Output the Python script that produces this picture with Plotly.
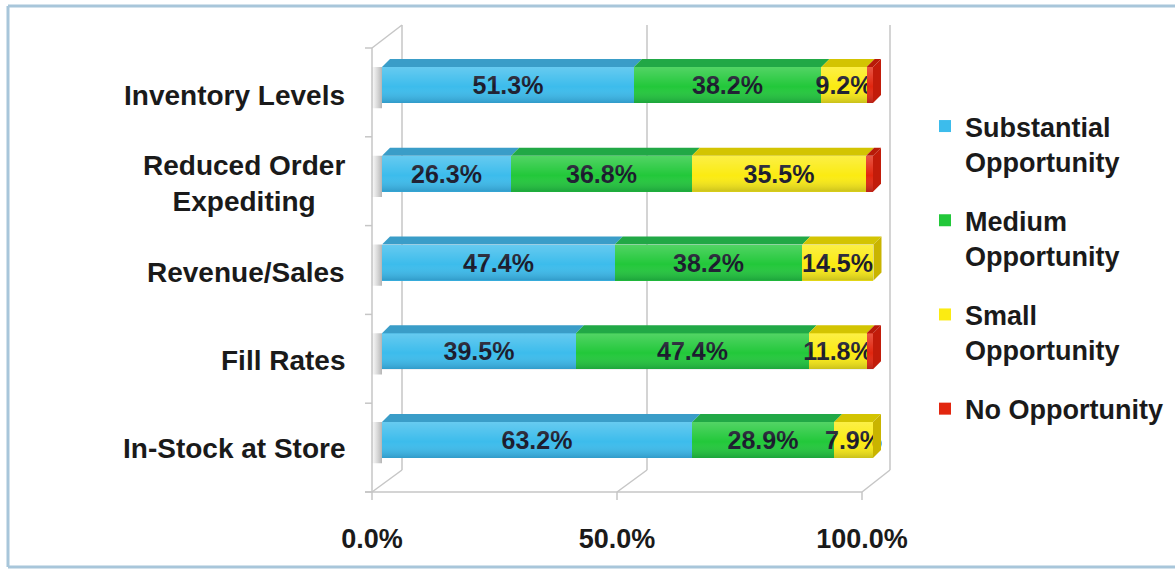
import plotly.graph_objects as go

# ---------------- data ----------------
categories = ["Inventory Levels", "Reduced Order<br>Expediting", "Revenue/Sales",
              "Fill Rates", "In-Stock at Store"]
series_names = ["Substantial<br>Opportunity", "Medium<br>Opportunity",
                "Small<br>Opportunity", "No Opportunity"]
substantial = [51.3, 26.3, 47.4, 39.5, 63.2]
medium = [38.2, 36.8, 38.2, 47.4, 28.9]
small = [9.2, 35.5, 14.5, 11.8, 7.9]
no_opp = [1.3, 1.4, 0.0, 1.3, 0.0]
x_tick_vals = [0, 50, 100]
x_tick_text = ["0.0%", "50.0%", "100.0%"]

# ---------------- styles ----------------
W, H = 1175, 569
FONT = "Liberation Sans, Arial, Helvetica, sans-serif"
front_cols = ["#3cbcec", "#22c83a", "#fbeb12", "#e2260f"]
top_cols = ["#3a9dc8", "#21a846", "#d3c402", "#b81a08"]
end_cols = ["#2f8fc0", "#1c9a3c", "#c9b400", "#c21c0a"]
text_col = "#18182a"
grid_col = "#c6c6c6"

# plot domain in pixels
X0, X1, Y0, Y1 = 355, 900, 20, 505
BAR0, BAR100 = 382, 873          # bar front-face 0% and 100%
TICK0, TICK100 = 372, 862        # front floor 0% and 100%
kx = (BAR100 - BAR0) / 100.0
kx2 = (TICK100 - TICK0) / 100.0
BAR_C0, KY = 440.0, 88.75        # bar centre of bottom row, row spacing
LAB_C0, KY2 = 448.0, 88.0        # label centre of bottom row, row spacing
bar_w = 36 / KY
ddx, ddy = 8 / kx, 8 / KY        # 3D depth of bars

n = len(categories)
ypos = [n - 1 - i for i in range(n)]
series = [substantial, medium, small, no_opp]

fig = go.Figure()

# soft shadow at the left end of each bar
sx, sy = [], []
for i in range(n):
    yt = ypos[i] + bar_w / 2
    yb = ypos[i] - bar_w / 2 - 0.06
    sx += [-2.2, 0, 0, -2.2, -2.2, None]
    sy += [yb, yb, yt, yt, yb, None]
fig.add_trace(go.Scatter(
    x=sx, y=sy, mode="lines", fill="toself", line=dict(width=0),
    fillgradient=dict(type="horizontal", start=-2.2, stop=0,
                      colorscale=[[0, "rgba(150,150,150,0)"],
                                  [1, "rgba(120,120,120,0.55)"]]),
    hoverinfo="skip", showlegend=False))

# front faces
for s, (name, vals) in enumerate(zip(series_names, series)):
    txt = [f"{v:.1f}%" if s < 3 else "" for v in vals]
    fig.add_trace(go.Bar(
        y=ypos, x=vals, orientation="h", name=name, width=bar_w,
        marker=dict(color=front_cols[s], line=dict(width=0)),
        text=txt, texttemplate="%{text}", textposition="inside",
        insidetextanchor="middle", textangle=0, constraintext="none",
        textfont=dict(family=FONT, size=25, color=text_col, weight="bold"),
        legendgroup=name, hoverinfo="x+name",
    ))

# shading over each bar front face (light top, darker bottom)
for i in range(n):
    total = sum(series[k][i] for k in range(4))
    yt = ypos[i] + bar_w / 2
    yb = ypos[i] - bar_w / 2
    fig.add_trace(go.Scatter(
        x=[0, total, total, 0, 0], y=[yb, yb, yt, yt, yb],
        mode="lines", fill="toself", line=dict(width=0),
        fillgradient=dict(type="vertical", start=yb, stop=yt,
                          colorscale=[[0, "rgba(0,20,60,0.20)"],
                                      [0.45, "rgba(255,255,255,0)"],
                                      [1, "rgba(255,255,255,0.22)"]]),
        hoverinfo="skip", showlegend=False))

# top faces and end faces (3D look), computed from the data
for s in range(4):
    xs, ys = [], []
    for i in range(n):
        start = sum(series[k][i] for k in range(s))
        end = start + series[s][i]
        if series[s][i] <= 0:
            continue
        yt = ypos[i] + bar_w / 2
        xs += [start, end, end + ddx, start + ddx, start, None]
        ys += [yt, yt, yt + ddy, yt + ddy, yt, None]
    fig.add_trace(go.Scatter(x=xs, y=ys, mode="lines", fill="toself",
                             fillcolor=top_cols[s], line=dict(width=0),
                             hoverinfo="skip", showlegend=False))

for s in range(4):
    xs, ys = [], []
    for i in range(n):
        last = max(k for k in range(4) if series[k][i] > 0)
        if last != s:
            continue
        end = sum(series[k][i] for k in range(4))
        yt = ypos[i] + bar_w / 2
        yb = ypos[i] - bar_w / 2
        xs += [end, end, end + ddx, end + ddx, end, None]
        ys += [yb, yt, yt + ddy, yb + ddy, yb, None]
    fig.add_trace(go.Scatter(x=xs, y=ys, mode="lines", fill="toself",
                             fillcolor=end_cols[s], line=dict(width=0),
                             hoverinfo="skip", showlegend=False))

# invisible trace on the label axes so they are drawn
fig.add_trace(go.Scatter(x=[None], y=[None], xaxis="x2", yaxis="y2",
                         showlegend=False, hoverinfo="skip"))


def fx(p):
    return p / W


def fy(p):
    return 1 - p / H


# 3D frame lines (pixel coordinates of the decoration)
frame = [
    (372, 48, 372, 500),                       # front-left edge
    (402, 25, 402, 470), (647, 25, 647, 470), (890, 25, 890, 470),  # back wall
    (372, 48, 402, 25),                        # top-left diagonal
    (365, 492, 862, 492),                      # front floor edge
    (372, 492, 402, 470), (617, 492, 647, 470), (862, 492, 890, 470),
    (617, 492, 617, 500), (862, 492, 862, 500),
]
for k in range(6):
    yy = 48 + k * 88.8
    frame.append((365, yy, 372, yy))
shapes = [dict(type="line", xref="paper", yref="paper",
               x0=fx(a), y0=fy(b), x1=fx(c), y1=fy(d),
               line=dict(color=grid_col, width=1.5), layer="below")
          for a, b, c, d in frame]
# outer frame (top, left, bottom) kept inside the page
for a, b, c, d in [(8, 6, 1175, 6), (8, 6, 8, 567), (8, 567, 1175, 567)]:
    shapes.append(dict(type="line", xref="paper", yref="paper",
                       x0=fx(a), y0=fy(b), x1=fx(c), y1=fy(d),
                       line=dict(color="#a8c6da", width=3), layer="below"))

# category labels
annotations = [dict(text=f"<b>{c}</b>", x=fx(347), xref="paper", xanchor="right",
                    y=ypos[i], yref="y2", yanchor="middle", showarrow=False,
                    align="center", font=dict(family=FONT, size=28, color="#1a1a1a"))
               for i, c in enumerate(categories)]

dom_x = [fx(X0), fx(X1)]
dom_y = [fy(Y1), fy(Y0)]

fig.update_layout(
    width=W, height=H, autosize=False,
    margin=dict(l=0, r=0, t=0, b=0, pad=0, autoexpand=False),
    paper_bgcolor="white", plot_bgcolor="rgba(0,0,0,0)",
    barmode="stack", bargap=0,
    font=dict(family=FONT, color="#1a1a1a"),
    uniformtext=dict(minsize=25, mode="show"),
    xaxis=dict(domain=dom_x, range=[(X0 - BAR0) / kx, (X1 - BAR0) / kx],
               showgrid=False, zeroline=False, showticklabels=False,
               showline=False, fixedrange=True, automargin=False),
    yaxis=dict(domain=dom_y, range=[(BAR_C0 - Y1) / KY, (BAR_C0 - Y0) / KY],
               showgrid=False, zeroline=False, showticklabels=False,
               showline=False, fixedrange=True, automargin=False),
    xaxis2=dict(domain=dom_x, anchor="y2", overlaying="x",
                range=[(X0 - TICK0) / kx2, (X1 - TICK0) / kx2],
                tickvals=x_tick_vals, ticktext=x_tick_text, ticks="",
                ticklabelstandoff=15, automargin=False,
                tickfont=dict(family=FONT, size=27, color="#1a1a1a", weight="bold"),
                showgrid=False, zeroline=False, showline=False, fixedrange=True),
    yaxis2=dict(domain=dom_y, anchor="x2", overlaying="y",
                range=[(LAB_C0 - Y1) / KY2, (LAB_C0 - Y0) / KY2],
                showticklabels=False, showgrid=False, zeroline=False,
                showline=False, fixedrange=True, automargin=False),
    legend=dict(x=fx(925), xanchor="left", y=fy(102), yanchor="top",
                traceorder="grouped", tracegroupgap=21, valign="top",
                font=dict(family=FONT, size=27, color="#1a1a1a", weight="bold"),
                bgcolor="rgba(0,0,0,0)"),
    shapes=shapes, annotations=annotations,
)

fig.write_html("out.html")
